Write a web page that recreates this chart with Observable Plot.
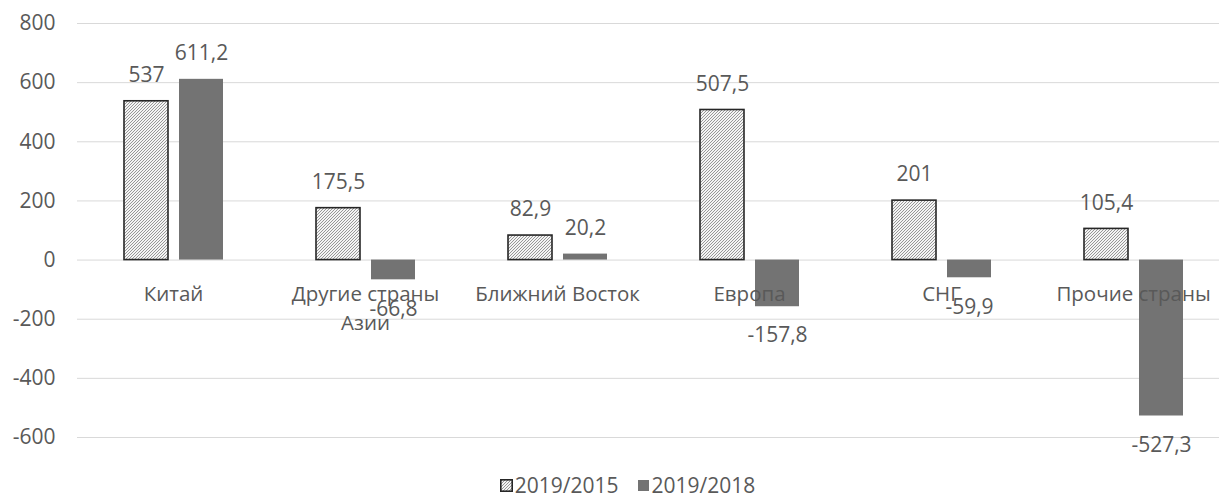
<!DOCTYPE html>
<html>
<head>
<meta charset="utf-8">
<script src="https://cdn.jsdelivr.net/npm/d3@7"></script>
<script src="https://cdn.jsdelivr.net/npm/@observablehq/plot@0.6"></script>
<style>
  html, body { margin: 0; padding: 0; background: #fff; }
  #chart { width: 1219px; }
  .legend { display: flex; justify-content: center; align-items: center; height: 23px;
    padding-left: 36px; box-sizing: border-box; width: 1219px;
    font-family: "Open Sans", sans-serif; font-size: 21px; color: #595959; line-height: 23px; }
  .legend .item { display: flex; align-items: center; margin: 0 9px; }
  .legend svg { margin-right: 2px; }
</style>
</head>
<body>
<div id="chart"></div>
<script>
const categories = ["Китай", "Другие страны Азии", "Ближний Восток", "Европа", "СНГ", "Прочие страны"];
const categoryLabels = ["Китай", "Другие страны\nАзии", "Ближний Восток", "Европа", "СНГ", "Прочие страны"];
const series = ["2019/2015", "2019/2018"];
const values2015 = [537, 175.5, 82.9, 507.5, 201, 105.4];
const values2018 = [611.2, -66.8, 20.2, -157.8, -59.9, -527.3];
const yTicks = [-600, -400, -200, 0, 200, 400, 600, 800];

const rows = [];
categories.forEach((c, i) => {
  rows.push({cat: c, series: series[0], value: values2015[i]});
  rows.push({cat: c, series: series[1], value: values2018[i]});
});
const catRows = categories.map((c, i) => ({cat: c, label: categoryLabels[i]}));
const fmt = v => String(v).replace(".", ",");
const textColor = "#595959";

const plot = Plot.plot({
  width: 1219,
  height: 474,
  marginTop: 23,
  marginBottom: 37,
  marginLeft: 76,
  marginRight: -10,
  style: {fontFamily: "'Open Sans', sans-serif", fontSize: "21px", color: textColor, background: "#fff"},
  fx: {domain: categories, axis: null, padding: 0},
  x: {domain: series, axis: null, paddingInner: 0.2, paddingOuter: 0.845},
  y: {domain: [-600, 800], axis: null},
  marks: [
    Plot.gridY(yTicks, {stroke: "#d9d9d9", strokeOpacity: 1, strokeWidth: 1}),
    Plot.axisY(yTicks, {tickSize: 0, tickPadding: 22, tickFormat: d => String(d), fill: textColor, fontSize: 21, label: null}),
    Plot.barY(rows.filter(d => d.series === series[0]), {
      fx: "cat", x: "series", y: "value",
      fill: "url(#hatch)", stroke: "#262626", strokeWidth: 1.6
    }),
    Plot.barY(rows.filter(d => d.series === series[1]), {
      fx: "cat", x: "series", y: "value", fill: "#737373"
    }),
    Plot.text(rows.filter(d => d.value >= 0), {
      fx: "cat", x: "series", y: "value", text: d => fmt(d.value),
      dy: -26, lineAnchor: "middle", fill: textColor, fontSize: 21
    }),
    Plot.text(catRows, {
      fx: "cat", y: () => 0, text: "label", frameAnchor: "middle",
      lineAnchor: "top", dy: 21, lineHeight: 1.4, fill: textColor, fontSize: 20.5
    }),
    Plot.text(rows.filter(d => d.value < 0), {
      fx: "cat", x: "series", y: "value", text: d => fmt(d.value),
      dy: 29, lineAnchor: "middle", fill: textColor, fontSize: 21
    })
  ]
});

function addHatch(sel, id) {
  const pat = sel.append("pattern").attr("id", id).attr("patternUnits", "userSpaceOnUse")
    .attr("width", 3).attr("height", 3);
  pat.append("rect").attr("width", 3).attr("height", 3).attr("fill", "#f4f4f4");
  pat.append("path").attr("d", "M-1,1 l2,-2 M0,3 l3,-3 M2,4 l2,-2")
    .attr("stroke", "#8c8c8c").attr("stroke-width", 0.9);
}

const svg = d3.select(plot);
addHatch(svg.insert("defs", ":first-child"), "hatch");
document.getElementById("chart").appendChild(plot);

// legend
const legend = d3.select("body").append("div").attr("class", "legend");
series.forEach((s, i) => {
  const item = legend.append("div").attr("class", "item");
  const sw = item.append("svg").attr("width", 13).attr("height", 13);
  if (i === 0) {
    addHatch(sw.append("defs"), "hatchL");
    sw.append("rect").attr("x", 0.8).attr("y", 0.8).attr("width", 11.4).attr("height", 11.4)
      .attr("fill", "url(#hatchL)").attr("stroke", "#262626").attr("stroke-width", 1.6);
  } else {
    sw.append("rect").attr("x", 1).attr("y", 1).attr("width", 11).attr("height", 11).attr("fill", "#737373");
  }
  item.append("span").text(s);
});
</script>
</body>
</html>
